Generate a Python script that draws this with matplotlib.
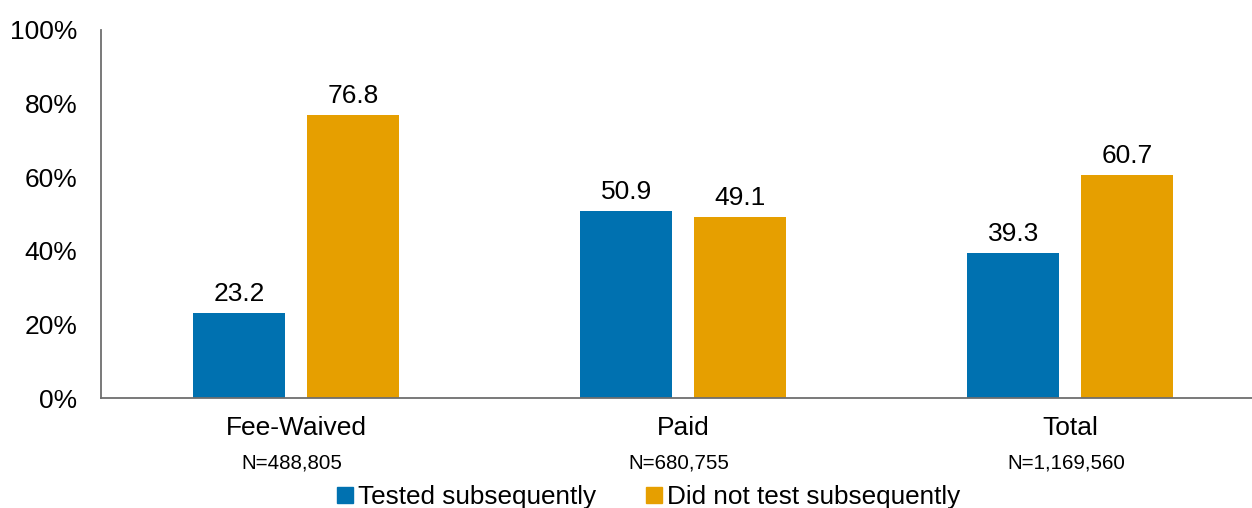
import matplotlib
matplotlib.use("Agg")
import matplotlib.pyplot as plt
from matplotlib.lines import Line2D
from matplotlib.transforms import blended_transform_factory
import numpy as np

categories = ["Fee-Waived", "Paid", "Total"]
sample_sizes = ["N=488,805", "N=680,755", "N=1,169,560"]
tested = [23.2, 50.9, 39.3]
not_tested = [76.8, 49.1, 60.7]
series_names = ["Tested subsequently", "Did not test subsequently"]

BLUE = "#0071B0"
ORANGE = "#E69F00"

plt.rcParams["font.family"] = ["Liberation Sans", "DejaVu Sans"]

fig = plt.figure(figsize=(12.52, 5.08), dpi=100)
ax = fig.add_axes([0.0807, 0.2165, 0.9193, 0.7245])

x = np.arange(len(categories))
w = 0.238
off = 0.147
b1 = ax.bar(x - off, tested, w, color=BLUE)
b2 = ax.bar(x + off, not_tested, w, color=ORANGE)

for bars, vals in ((b1, tested), (b2, not_tested)):
    for bar, v in zip(bars, vals):
        ax.annotate(f"{v:.1f}", (bar.get_x() + bar.get_width() / 2, v),
                    xytext=(0, 5), textcoords="offset points",
                    ha="center", va="bottom", fontsize=19)

ax.set_xlim(-0.504, 2.47)
ax.set_ylim(0, 100)
ax.set_yticks(range(0, 101, 20))
ax.set_yticklabels([f"{t}%" for t in range(0, 101, 20)])
ax.tick_params(axis="y", length=0, pad=17, labelsize=19)
ax.set_xticks(x)
ax.set_xticklabels(categories)
ax.tick_params(axis="x", length=0, pad=13, labelsize=19)

for s in ("top", "right"):
    ax.spines[s].set_visible(False)
for s in ("left", "bottom"):
    ax.spines[s].set_color("#6E6E6E")
    ax.spines[s].set_linewidth(1.3)

trans = blended_transform_factory(ax.transData, ax.transAxes)
for xi, n in zip(x, sample_sizes):
    ax.text(xi - 0.01, -0.176, n, transform=trans, ha="center", va="center",
            fontsize=14.8)

handles = [Line2D([], [], marker="s", linestyle="none", markersize=11,
                  color=c) for c in (BLUE, ORANGE)]
fig.legend(handles, series_names, loc="center", bbox_to_anchor=(0.518, 0.022),
           ncol=2, frameon=False, fontsize=18.8, handlelength=0.6,
           handletextpad=0.2, columnspacing=1.9, borderpad=0)

fig.savefig("out.png", dpi=100)
